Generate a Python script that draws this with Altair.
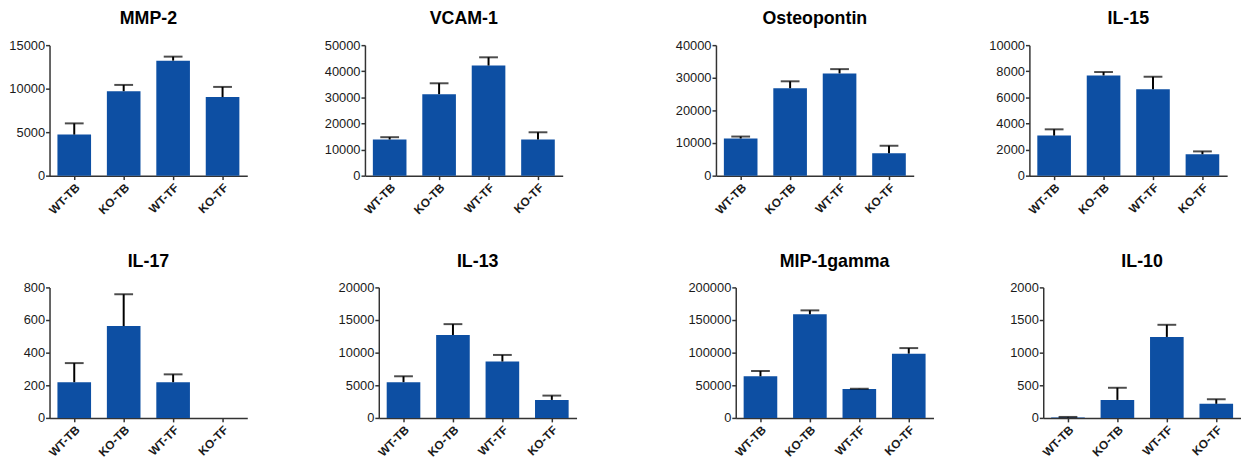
import altair as alt
import pandas as pd

groups = ["WT-TB", "KO-TB", "WT-TF", "KO-TF"]

titles = ["MMP-2", "VCAM-1", "Osteopontin", "IL-15",
          "IL-17", "IL-13", "MIP-1gamma", "IL-10"]

# bar heights (means) and top of the error bars (mean + SEM)
mmp2_mean = [4720, 9710, 13220, 9030]
mmp2_err = [6010, 10430, 13680, 10200]
vcam1_mean = [13850, 31230, 42190, 13850]
vcam1_err = [14740, 35390, 45340, 16620]
opn_mean = [11390, 26800, 31340, 6850]
opn_err = [11990, 28920, 32650, 9170]
il15_mean = [3070, 7680, 6630, 1640]
il15_err = [3550, 7940, 7580, 1860]
il17_mean = [219, 563, 219, 0]
il17_err = [336, 758, 267, None]
il13_mean = [5480, 12710, 8640, 2760]
il13_err = [6380, 14370, 9650, 3420]
mip_mean = [63800, 158800, 44200, 98500]
mip_err = [71900, 164800, 44700, 107000]
il10_mean = [8, 276, 1241, 216]
il10_err = [15, 462, 1427, 286]

# y-axis tick labels
mmp2_ticks = [0, 5000, 10000, 15000]
vcam1_ticks = [0, 10000, 20000, 30000, 40000, 50000]
opn_ticks = [0, 10000, 20000, 30000, 40000]
il15_ticks = [0, 2000, 4000, 6000, 8000, 10000]
il17_ticks = [0, 200, 400, 600, 800]
il13_ticks = [0, 5000, 10000, 15000, 20000]
mip_ticks = [0, 50000, 100000, 150000, 200000]
il10_ticks = [0, 500, 1000, 1500, 2000]

means = [mmp2_mean, vcam1_mean, opn_mean, il15_mean,
         il17_mean, il13_mean, mip_mean, il10_mean]
errs = [mmp2_err, vcam1_err, opn_err, il15_err,
        il17_err, il13_err, mip_err, il10_err]
ticks = [mmp2_ticks, vcam1_ticks, opn_ticks, il15_ticks,
         il17_ticks, il13_ticks, mip_ticks, il10_ticks]

BLUE = "#0d4fa3"
FONT = "Liberation Sans"
W, H = 200, 132


def panel(title, m, e, t):
    df = pd.DataFrame({"group": groups, "mean": m, "err": e})
    xscale = alt.Scale(paddingInner=0.32, paddingOuter=0.16)
    yscale = alt.Scale(domain=[0, t[-1]], nice=False)
    xaxis = alt.Axis(labelAngle=-45, title=None)
    yaxis = alt.Axis(values=t, format="d", labelOverlap=False, title=None)
    xenc = alt.X("group:N", sort=groups, scale=xscale, axis=xaxis)
    bars = alt.Chart(df).mark_bar(color=BLUE).encode(
        x=xenc,
        y=alt.Y("mean:Q", scale=yscale, axis=yaxis),
    )
    eb = alt.Chart(df).transform_filter("isValid(datum.err)")
    rule = eb.mark_rule(color="black", strokeWidth=2).encode(
        x=xenc,
        y=alt.Y("mean:Q", scale=yscale, axis=yaxis),
        y2="err:Q",
    )
    cap = eb.mark_tick(color="black", thickness=2, size=19).encode(
        x=xenc,
        y=alt.Y("err:Q", scale=yscale, axis=yaxis),
    )
    return alt.layer(bars, rule, cap).properties(
        width=W, height=H, title=alt.TitleParams(title)
    )


def spacer(w):
    return alt.Chart(alt.Data(values=[{"a": 0}])).mark_point(opacity=0).properties(
        width=w, height=H
    )


p = [panel(titles[i], means[i], errs[i], ticks[i]) for i in range(8)]

row1 = alt.hconcat(p[0], spacer(119), p[1], spacer(155), p[2], spacer(117), p[3],
                   spacing=0, bounds="flush")
row2 = alt.hconcat(p[4], spacer(133), p[5], spacer(161), p[6], spacer(111), p[7],
                   spacing=0, bounds="flush")

chart = alt.vconcat(row1, row2, spacing=37).properties(
    padding={"left": 0, "top": 0, "right": 0, "bottom": 0}
).configure_view(stroke=None).configure_axis(
    domainColor="#333333", domainWidth=1.5, tickColor="#333333", tickWidth=1.5,
    tickSize=4, labelFont=FONT, labelColor="#1a1a1a", grid=False,
).configure_axisY(labelPadding=1, labelFontSize=13).configure_axisX(
    labelFontSize=12, labelFontWeight="bold", labelPadding=2,
).configure_title(
    font=FONT, fontSize=18, fontWeight="bold", anchor="middle", color="black",
    offset=11,
)

chart.save("out.html", embed_options={"renderer": "svg", "actions": False})
